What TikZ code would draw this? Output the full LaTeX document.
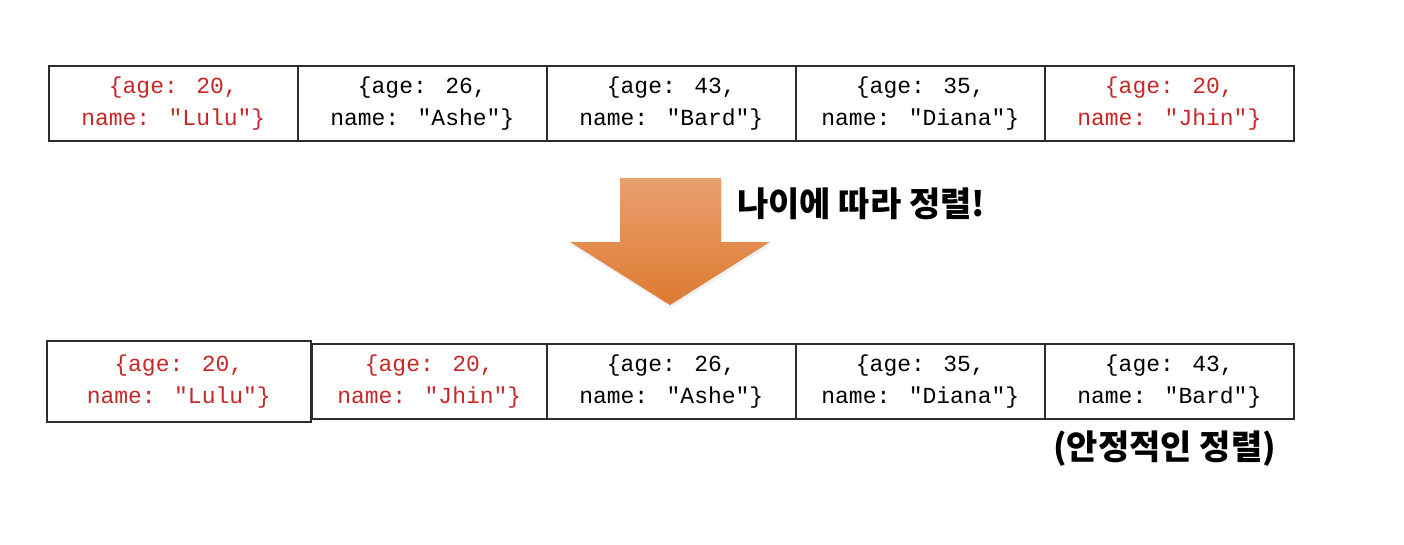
\documentclass[tikz,border=0pt]{standalone}
\usepackage{fontspec}
\newfontfamily\monofont{Liberation Mono}
\newfontfamily\krfont{Noto Sans CJK KR}
\usetikzlibrary{shadows}
\definecolor{hlred}{RGB}{198,40,40}
\definecolor{edge}{RGB}{45,45,45}
\definecolor{arrtop}{RGB}{232,160,112}
\definecolor{arrbot}{RGB}{222,122,48}
\begin{document}
\begin{tikzpicture}[x=1pt,y=-1pt,
  cell/.style={draw=edge, line width=1.6pt, minimum width=249pt, minimum height=75pt,
    inner sep=0pt, align=center, anchor=north west,
    font=\monofont\fontsize{23}{32}\selectfont},
  hl/.style={text=hlred},
  krlabel/.style={inner sep=0pt, anchor=base west, font=\krfont\bfseries\fontsize{34}{36}\selectfont}]
\useasboundingbox (0,0) rectangle (1404,544);
% top row
\node[cell, hl] (t1) at (48,65) {\{age: 20,\\name: "Lulu"\}};
\node[cell] (t2) at (297,65) {\{age: 26,\\name: "Ashe"\}};
\node[cell] (t3) at (546,65) {\{age: 43,\\name: "Bard"\}};
\node[cell] (t4) at (795,65) {\{age: 35,\\name: "Diana"\}};
\node[cell, hl] (t5) at (1044,65) {\{age: 20,\\name: "Jhin"\}};
% arrow
\path[top color=arrtop, bottom color=arrbot,
  drop shadow={opacity=0.12, shadow xshift=1pt, shadow yshift=-3pt}]
  (620,178) -- (721,178) -- (721,242) -- (770,242) -- (670,305) -- (570,242) -- (620,242) -- cycle;
\node[krlabel] (lbl) at (737,216) {나이에 따라 정렬!};
% bottom row
\node[cell, hl, minimum width=235pt, minimum height=75pt] (b2) at (311,343) {\{age: 20,\\name: "Jhin"\}};
\node[cell, hl, minimum width=264pt, minimum height=81pt] (b1) at (46,340) {\{age: 20,\\name: "Lulu"\}};
\node[cell] (b3) at (546,343) {\{age: 26,\\name: "Ashe"\}};
\node[cell] (b4) at (795,343) {\{age: 35,\\name: "Diana"\}};
\node[cell] (b5) at (1044,343) {\{age: 43,\\name: "Bard"\}};
\node[krlabel] (stable) at (1053,459) {(안정적인 정렬)};
\end{tikzpicture}
\end{document}
